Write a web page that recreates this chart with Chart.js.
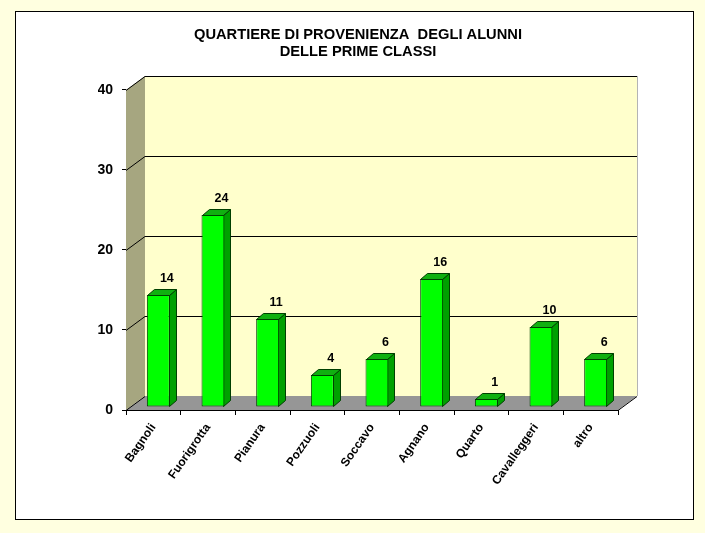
<!DOCTYPE html>
<html>
<head>
<meta charset="utf-8">
<title>Quartiere di provenienza</title>
<script src="https://cdn.jsdelivr.net/npm/chart.js@4"></script>
<style>
  html, body { margin: 0; padding: 0; background: #ffffe0; }
  canvas { display: block; }
</style>
</head>
<body>
<canvas id="myChart" width="705" height="533" style="width:705px;height:533px"></canvas>
<script>
// chart data
const categories = ["Bagnoli", "Fuorigrotta", "Pianura", "Pozzuoli", "Soccavo", "Agnano", "Quarto", "Cavalleggeri", "altro"]
const alunni = [14, 24, 11, 4, 6, 16, 1, 10, 6]
const yTicks = [0, 10, 20, 30, 40]
const titleLines = ["QUARTIERE DI PROVENIENZA  DEGLI ALUNNI", "DELLE PRIME CLASSI"]

// depth of the fake 3d box and of the bars
const WALL_DX = 19, WALL_DY = -14
const BAR_DX = 7, BAR_DY = -6
const BAR_SHIFT_X = 5, BAR_SHIFT_Y = -3

function poly(ctx, pts, fill, stroke) {
  ctx.beginPath()
  pts.forEach((p, i) => i ? ctx.lineTo(p[0], p[1]) : ctx.moveTo(p[0], p[1]))
  ctx.closePath()
  if (fill) { ctx.fillStyle = fill; ctx.fill() }
  if (stroke) { ctx.strokeStyle = stroke; ctx.lineWidth = 1; ctx.stroke() }
}

function line(ctx, x1, y1, x2, y2, color) {
  ctx.beginPath()
  ctx.moveTo(x1, y1)
  ctx.lineTo(x2, y2)
  ctx.strokeStyle = color
  ctx.lineWidth = 1
  ctx.stroke()
}

// page background, white frame, walls and floor
const box3d = {
  id: "box3d",
  beforeDraw(chart) {
    const ctx = chart.ctx, a = chart.chartArea, y = chart.scales.y
    const l = a.left, r = a.right, t = a.top, b = a.bottom
    ctx.save()
    ctx.fillStyle = "#ffffe0"
    ctx.fillRect(0, 0, chart.width, chart.height)
    ctx.fillStyle = "#ffffff"
    ctx.fillRect(15.5, 11.5, 678, 508)
    ctx.strokeStyle = "#000000"
    ctx.lineWidth = 1
    ctx.strokeRect(15.5, 11.5, 678, 508)

    poly(ctx, [[l + WALL_DX, t + WALL_DY], [r + WALL_DX, t + WALL_DY], [r + WALL_DX, b + WALL_DY], [l + WALL_DX, b + WALL_DY]], "#ffffcc")
    poly(ctx, [[l, t], [l + WALL_DX, t + WALL_DY], [l + WALL_DX, b + WALL_DY], [l, b]], "#a6a680")
    poly(ctx, [[l, b], [l + WALL_DX, b + WALL_DY], [r + WALL_DX, b + WALL_DY], [r, b]], "#969696")
    line(ctx, r + WALL_DX + 0.5, t + WALL_DY, r + WALL_DX + 0.5, b + WALL_DY, "#b4b4b4")

    yTicks.forEach(v => {
      const py = Math.round(y.getPixelForValue(v)) + 0.5
      line(ctx, l, py, l + WALL_DX, py + WALL_DY, "#000000")
      if (v > 0) line(ctx, l + WALL_DX, py + WALL_DY, r + WALL_DX, py + WALL_DY, "#000000")
    })
    line(ctx, r, b + 0.5, r + WALL_DX, b + 0.5 + WALL_DY, "#000000")
    ctx.restore()
  },
  // bars stand a little behind the front edge of the floor
  beforeDatasetsDraw(chart) {
    const ctx = chart.ctx
    ctx.save()
    ctx.translate(BAR_SHIFT_X, BAR_SHIFT_Y)
    chart.getDatasetMeta(0).data.forEach(bar => {
      const x1 = Math.round(bar.x - bar.width / 2) + 0.5
      const x2 = Math.round(bar.x + bar.width / 2) - 0.5
      const top = Math.round(bar.y) + 0.5
      const bot = Math.round(bar.base) - 0.5
      poly(ctx, [[x2, top], [x2 + BAR_DX, top + BAR_DY], [x2 + BAR_DX, bot + BAR_DY], [x2, bot]], "#00a000", "#004000")
      poly(ctx, [[x1, top], [x1 + BAR_DX, top + BAR_DY], [x2 + BAR_DX, top + BAR_DY], [x2, top]], "#10b010", "#004000")
    })
  },
  afterDatasetsDraw(chart) {
    const ctx = chart.ctx
    ctx.restore()
    // value labels
    ctx.save()
    ctx.font = "bold 12.5px 'Liberation Sans'"
    ctx.fillStyle = "#000000"
    ctx.textAlign = "center"
    ctx.textBaseline = "middle"
    chart.getDatasetMeta(0).data.forEach((bar, i) => {
      ctx.fillText(alunni[i], bar.x + BAR_SHIFT_X + 8.5, bar.y + BAR_SHIFT_Y - 16)
    })
    ctx.restore()
  }
}

function updateChart() {
  const ctx = document.getElementById("myChart").getContext("2d")
  new Chart(ctx, {
    type: "bar",
    plugins: [box3d],
    data: {
      labels: categories,
      datasets: [{
        data: alunni,
        backgroundColor: "#00ff00",
        borderColor: "#004000",
        borderWidth: 1,
        borderSkipped: false,
        categoryPercentage: 1,
        barPercentage: 0.42
      }]
    },
    options: {
      responsive: false,
      animation: false,
      layout: { padding: { left: 98, right: 87, top: 26, bottom: 23 } },
      plugins: {
        legend: { display: false },
        tooltip: { enabled: false },
        title: {
          display: true,
          text: titleLines,
          color: "#000000",
          font: { family: "'Liberation Sans'", size: 14.7, weight: "bold", lineHeight: 1.17 },
          padding: { top: 0, bottom: 29.6 }
        }
      },
      scales: {
        x: {
          afterFit(scale) {
            scale.height = 100
            scale.paddingLeft = scale.paddingRight = 0
          },
          border: { color: "#000000" },
          grid: { drawOnChartArea: false, drawTicks: true, tickLength: 5, color: "#000000" },
          ticks: {
            color: "#000000",
            font: { family: "'Liberation Sans'", size: 12, weight: "bold" },
            minRotation: 55,
            maxRotation: 55,
            autoSkip: false,
            padding: 6
          }
        },
        y: {
          min: 0,
          max: 40,
          afterFit(scale) {
            scale.width = 28
            scale.paddingTop = scale.paddingBottom = 0
          },
          afterBuildTicks(scale) { scale.ticks = yTicks.map(v => ({ value: v })) },
          border: { display: false },
          grid: { drawOnChartArea: false, drawTicks: true, tickLength: 4, color: "#000000" },
          ticks: {
            color: "#000000",
            font: { family: "'Liberation Sans'", size: 14, weight: "bold" },
            padding: 9
          }
        }
      }
    }
  })
}

updateChart()
</script>
</body>
</html>
